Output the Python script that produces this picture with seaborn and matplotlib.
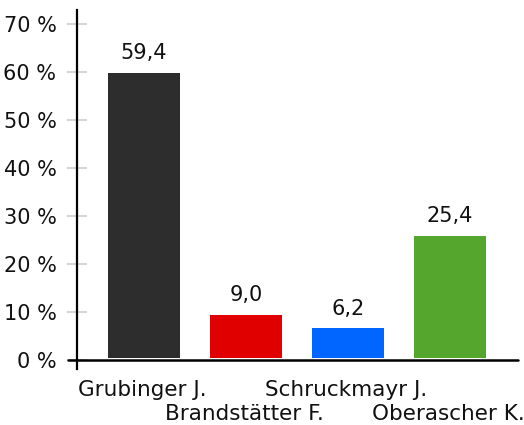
import matplotlib
matplotlib.use("Agg")
import matplotlib.pyplot as plt
from matplotlib.transforms import ScaledTranslation
import seaborn as sns
import pandas as pd

# Vote shares per candidate (percent)
candidates = ["Grubinger J.", "Brandstätter F.", "Schruckmayr J.", "Oberascher K."]
shares = [59.4, 9.0, 6.2, 25.4]
bar_colors = ["#2d2d2d", "#e00000", "#0066ff", "#55a62d"]
y_ticks = [0, 10, 20, 30, 40, 50, 60, 70]

sns.set_theme(style="white")
plt.rcParams["font.family"] = ["DejaVu Sans"]

df = pd.DataFrame({"candidate": candidates, "share": shares})

W, H, DPI = 524, 425, 100
fig = plt.figure(figsize=(W / DPI, H / DPI), dpi=DPI)
left, right, top, bottom = 77, 518, 10, 369
ax = fig.add_axes([left / W, 1 - bottom / H, (right - left) / W, (bottom - top) / H])

sns.barplot(data=df, x="candidate", y="share", hue="candidate",
            palette=bar_colors, width=0.706, saturation=1,
            linewidth=0, legend=False, ax=ax)

ax.set_xlim(-0.657, 3.667)
ax.set_ylim(-1.85, 72.9)

# bars sit just above the baseline
lift = ScaledTranslation(0, 2.2 / DPI, fig.dpi_scale_trans)
for p in ax.patches:
    p.set_transform(ax.transData + lift)
    p.set_linewidth(0)

# value labels above bars
for i, v in enumerate(shares):
    ax.annotate(f"{v:.1f}".replace(".", ","), (i, v), xytext=(0, 8.5),
                textcoords="offset points", ha="center", va="bottom",
                fontsize=15, color="#111111")

# y axis
ax.set_yticks(y_ticks)
ax.set_yticklabels([f"{t} %" for t in y_ticks], fontsize=15, color="#111111")
ax.tick_params(axis="y", direction="inout", length=13.7, width=1.2,
               color="#cccccc", pad=8, left=True)

# x axis: staggered category labels on two rows
ax.set_xticks(range(len(candidates)))
ax.set_xticklabels([])
ax.tick_params(axis="x", length=0)
for i, c in enumerate(candidates):
    dy = -25.9 if i % 2 == 0 else -43.2
    ax.annotate(c, (i, 0), xytext=(-1, dy), textcoords="offset points",
                ha="center", va="baseline", fontsize=15.5, color="#111111",
                annotation_clip=False)
ax.set_xlabel("")
ax.set_ylabel("")

for s in ["top", "right", "bottom"]:
    ax.spines[s].set_visible(False)
ax.spines["left"].set_color("black")
ax.spines["left"].set_linewidth(1.6)
ax.spines["left"].set_zorder(5)

# baseline at 0 %, reaching a little left of the y axis
ax.axhline(0, xmin=-0.0204, xmax=1, color="black", linewidth=1.8,
           clip_on=False, zorder=5)

fig.savefig("out.png", dpi=DPI)
